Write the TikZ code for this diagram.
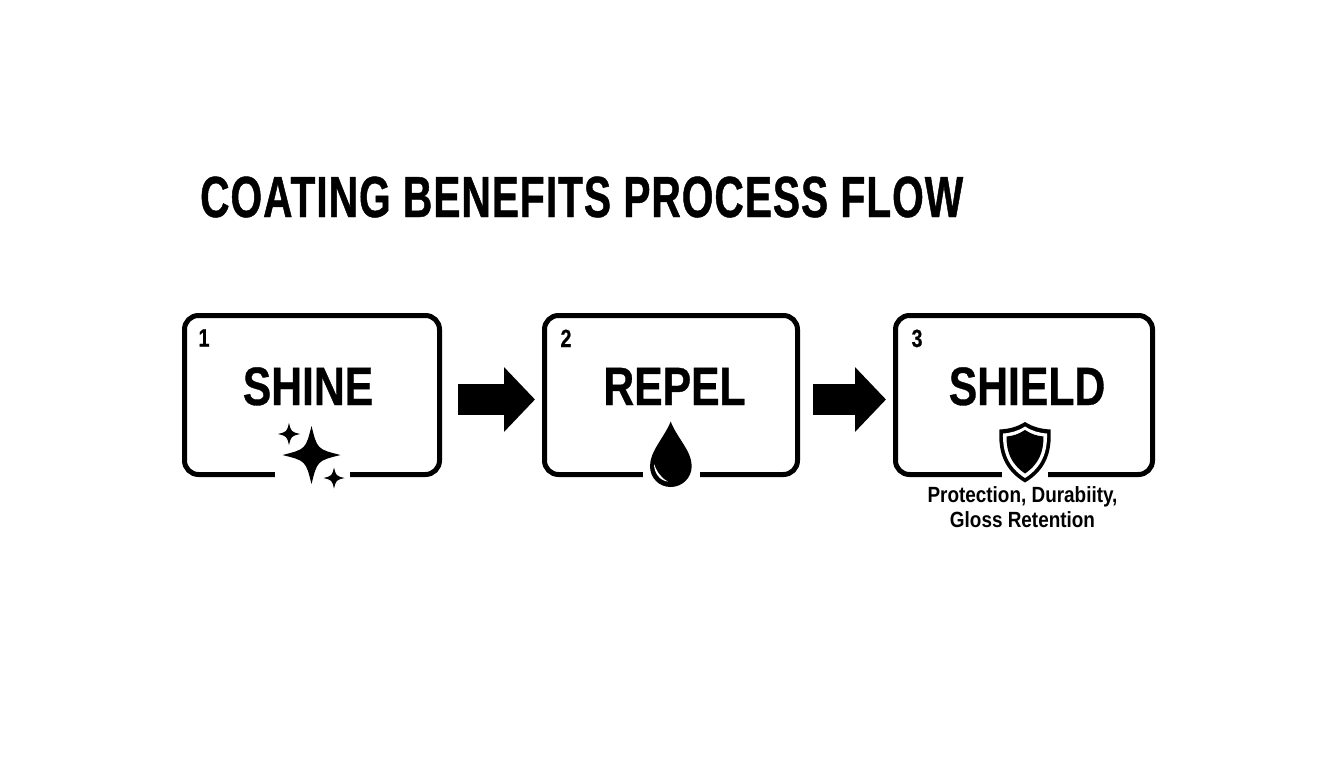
\documentclass[tikz,border=0pt]{standalone}
\usepackage{fontspec}
\setmainfont{Liberation Sans}[FakeStretch=0.79, BoldFeatures={FakeBold=0.6}]
\newfontfamily\titlefont{Liberation Sans Bold}[FakeStretch=0.70, LetterSpace=1.8, FakeBold=0.8]
\newfontfamily\notefont{Liberation Sans Bold}[FakeStretch=0.86]
\usetikzlibrary{positioning, arrows.meta}

\tikzset{
    stepbox/.style={draw, rectangle, rounded corners=14pt, line width=5pt, minimum height=159pt, inner sep=0pt},
    steptext/.style={anchor=base, font=\fontsize{54}{54}\selectfont\bfseries, inner sep=0pt},
    stepnum/.style={anchor=base, font=\fontsize{25}{25}\selectfont\bfseries, inner sep=0pt},
    gap/.style={fill=white, inner sep=0pt, minimum height=9pt},
    flow/.style={line width=31pt, -{Triangle[length=31pt, width=63pt]}},
    sparkle/.pic={\fill (0,-1) .. controls (0.2,-0.2) .. (1,0) .. controls (0.2,0.2) .. (0,1) .. controls (-0.2,0.2) .. (-1,0) .. controls (-0.2,-0.2) .. cycle;},
}

\begin{document}
\begin{tikzpicture}[x=1pt, y=-1pt]
\useasboundingbox (0,0) rectangle (1344,768);
\node[anchor=base west, inner sep=0pt, font=\fontsize{58}{58}\titlefont] (title) at (200,217) {COATING BENEFITS PROCESS FLOW};

\node[stepbox, minimum width=255pt] (box1) at (312,395) {};
\node[stepbox, minimum width=253pt] (box2) at (671,395) {};
\node[stepbox, minimum width=257pt] (box3) at (1024,395) {};

\node[stepnum] (num1) at (204,346.5) {1};
\node[stepnum] (num2) at (566,347) {2};
\node[stepnum] (num3) at (917,347) {3};

\node[steptext] (shine) at (308,405) {SHINE};
\node[steptext] (repel) at (674.5,405) {REPEL};
\node[steptext] (shield) at (1027,405) {SHIELD};

\draw[flow, shorten <=16pt, shorten >=7pt] ([yshift=-4.5pt]box1.east) -- ([yshift=-4.5pt]box2.west);
\draw[flow, shorten <=13pt, shorten >=7pt] ([yshift=-4.5pt]box2.east) -- ([yshift=-4.5pt]box3.west);

% icons sit over a gap in the bottom line
\node[gap, minimum width=75pt] (gap1) at (312.5,474.5) {};
\node[gap, minimum width=57pt] (gap2) at (671.5,474.5) {};
\node[gap, minimum width=46pt] (gap3) at (1025,474.5) {};

% sparkles
\pic[scale=29] at (311.5,455) {sparkle};
\pic[scale=11] at (289,434) {sparkle};
\pic[scale=10.5] at (334,478) {sparkle};

% drop
\fill (670.7,421.5) .. controls (664,438) and (650,451) .. (650,466)
    .. controls (650,478) and (659,487) .. (670.7,487)
    .. controls (682,487) and (691.7,478) .. (691.7,466)
    .. controls (691.7,451) and (677,438) .. cycle;
\fill[white] (654,464) .. controls (654,473) and (660,481) .. (668,481.5)
    .. controls (661,478) and (657,472) .. cycle;

% shield
\fill (1025,422) .. controls (1033,427) and (1041,429) .. (1050.5,429.5)
    .. controls (1052,452) and (1046,470) .. (1025,482.5)
    .. controls (1004,470) and (998,452) .. (999.5,429.5)
    .. controls (1009,429) and (1017,427) .. cycle;
\fill[white] (1025,426.5) .. controls (1032,431) and (1039,433) .. (1047,433.5)
    .. controls (1047.5,452) and (1042,467) .. (1025,478)
    .. controls (1008,467) and (1002.5,452) .. (1003,433.5)
    .. controls (1011,433) and (1018,431) .. cycle;
\fill (1025,430) .. controls (1031,434) and (1037,436) .. (1043.5,436.5)
    .. controls (1043.5,452) and (1039,464) .. (1025,473.5)
    .. controls (1011,464) and (1006.5,452) .. (1006.5,436.5)
    .. controls (1013,436) and (1019,434) .. cycle;

\node[align=center, inner sep=0pt, font=\fontsize{22}{25}\notefont] (benefits) at (1022.5,507.5) {Protection, Durabiity,\\Gloss Retention};
\end{tikzpicture}
\end{document}
